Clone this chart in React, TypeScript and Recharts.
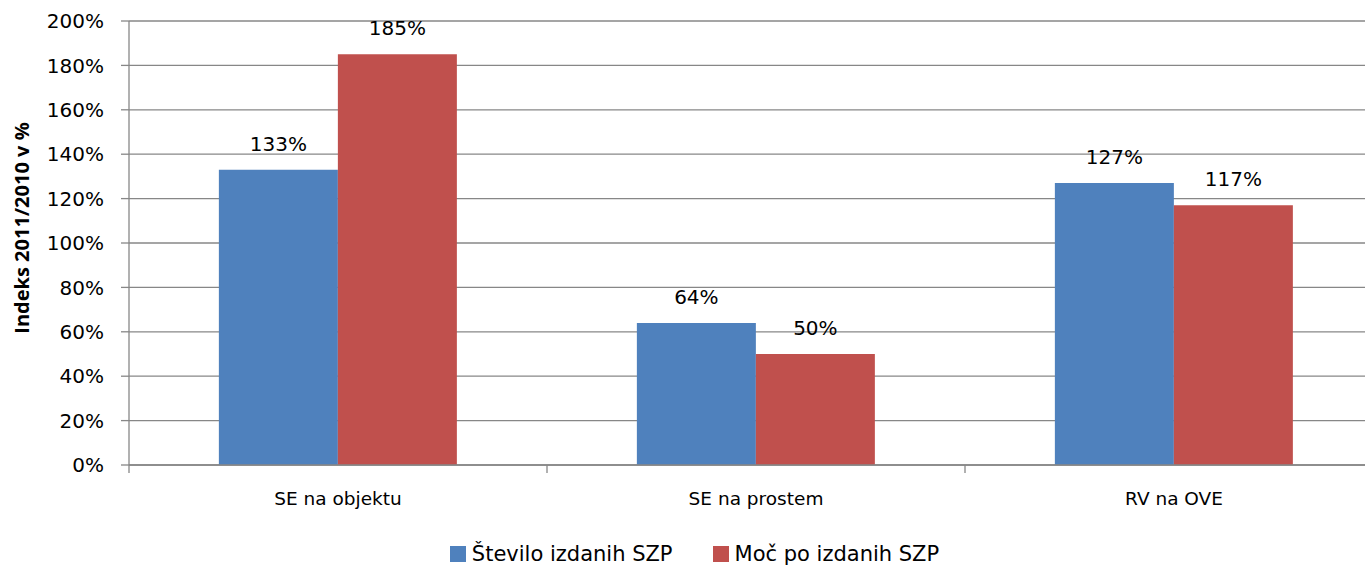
import React from "react";
import {
    Bar,
    BarChart,
    CartesianGrid,
    LabelList,
    Legend,
    XAxis,
    YAxis,
} from "recharts";

const categories = ["SE na objektu", "SE na prostem", "RV na OVE"];
const steviloIzdanih = [133, 64, 127];
const mocPoIzdanih = [185, 50, 117];
const yTicks = [0, 20, 40, 60, 80, 100, 120, 140, 160, 180, 200];

const seriesKeys = ["stevilo", "moc"];
const seriesNames: Record<string, string> = {
    stevilo: "Število izdanih SZP",
    moc: "Moč po izdanih SZP",
};

const BLUE = "#4F81BD";
const RED = "#C0504D";
const GRID = "#878787";
const FONT = "'DejaVu Sans', 'Open Sans', sans-serif";
const TITLE_FONT = "'Open Sans', 'Noto Sans', sans-serif";
const TICK_MARGIN = 27;

const data = categories.map((name, i) => ({
    name,
    stevilo: steviloIzdanih[i],
    moc: mocPoIzdanih[i],
}));

// category label at the band centre, tick mark at the band's left edge
function CategoryTick(props: any) {
    const { x, y, payload } = props;
    const axisY = y - TICK_MARGIN;
    const edgeX = payload.coordinate - (payload.offset ?? 0);
    return (
        <g>
            <line x1={edgeX} x2={edgeX} y1={axisY} y2={axisY + 8} stroke={GRID} strokeWidth={1.3} />
            <text
                x={x}
                y={y}
                dy="0.71em"
                textAnchor="middle"
                fill="#000"
                fontSize={18.5}
                fontFamily={FONT}
            >
                {payload.value}
            </text>
        </g>
    );
}

function LegendContent({ payload }: { payload?: any[] }) {
    const items = seriesKeys.map((key) => {
        const found = (payload ?? []).find((p) => p.dataKey === key);
        return { key, name: seriesNames[key], color: found?.color ?? (key === "moc" ? RED : BLUE) };
    });
    return (
        <div
            style={{
                display: "flex",
                justifyContent: "center",
                gap: 40,
                fontFamily: FONT,
                fontSize: 21,
                color: "#000",
                paddingTop: 17,
                paddingLeft: 6,
            }}
        >
            {items.map((item) => (
                <div key={item.key} style={{ display: "flex", alignItems: "center", gap: 6 }}>
                    <span style={{ width: 16, height: 16, background: item.color, display: "inline-block" }} />
                    <span>{item.name}</span>
                </div>
            ))}
        </div>
    );
}

export default function App() {
    return (
        <div
            style={{
                position: "absolute",
                left: 0,
                top: 0,
                width: 1365,
                height: 568,
                overflow: "hidden",
                background: "#fff",
            }}
        >
            <BarChart
                width={1383}
                height={568}
                data={data}
                margin={{ top: 21, right: 0, left: 0, bottom: 0 }}
                barCategoryGap="21.5%"
                barGap={0}
            >
                <CartesianGrid vertical={false} stroke={GRID} strokeWidth={1.3} />
                <XAxis
                    dataKey="name"
                    height={60}
                    tickLine={false}
                    tickSize={0}
                    axisLine={{ stroke: GRID, strokeWidth: 1.3 }}
                    tickMargin={TICK_MARGIN}
                    tick={<CategoryTick />}
                    interval={0}
                />
                <YAxis
                    domain={[0, 200]}
                    ticks={yTicks}
                    width={129}
                    tickSize={8}
                    tickMargin={17}
                    tickFormatter={(v) => `${v}%`}
                    tick={{ fontSize: 20, fill: "#000", fontFamily: FONT }}
                    axisLine={{ stroke: GRID, strokeWidth: 1.3 }}
                    tickLine={{ stroke: GRID, strokeWidth: 1.3 }}
                    label={{
                        value: "Indeks 2011/2010 v %",
                        angle: -90,
                        position: "insideLeft",
                        dx: 17,
                        dy: -15,
                        style: {
                            textAnchor: "middle",
                            fill: "#000",
                            fontSize: 20,
                            fontWeight: 700,
                            fontFamily: TITLE_FONT,
                        },
                    }}
                />
                <Legend verticalAlign="bottom" height={43} content={<LegendContent />} />
                <Bar dataKey="stevilo" name={seriesNames.stevilo} fill={BLUE} isAnimationActive={false}>
                    <LabelList
                        dataKey="stevilo"
                        position="top"
                        offset={19}
                        formatter={(v: any) => `${v}%`}
                        style={{ fontSize: 20, fill: "#000", fontFamily: FONT }}
                    />
                </Bar>
                <Bar dataKey="moc" name={seriesNames.moc} fill={RED} isAnimationActive={false}>
                    <LabelList
                        dataKey="moc"
                        position="top"
                        offset={19}
                        formatter={(v: any) => `${v}%`}
                        style={{ fontSize: 20, fill: "#000", fontFamily: FONT }}
                    />
                </Bar>
            </BarChart>
        </div>
    );
}
